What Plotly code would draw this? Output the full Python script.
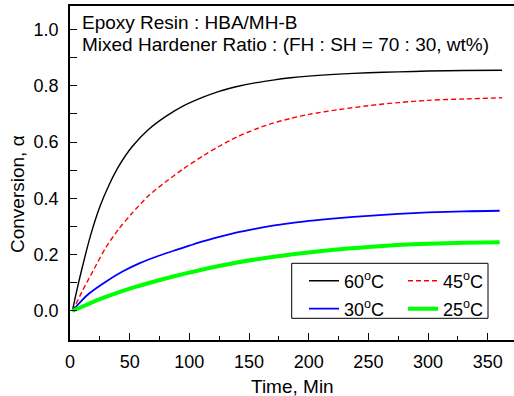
import plotly.graph_objects as go

# ---- data ----
t_60 = [2, 5, 10, 17, 25, 33, 41, 52, 66, 80, 95, 112, 125, 140, 155, 170, 185, 200, 225, 250, 275, 300, 330, 362]
a_60 = [0.0, 0.06, 0.15, 0.265, 0.37, 0.45, 0.515, 0.583, 0.645, 0.69, 0.728, 0.76, 0.78, 0.797, 0.810, 0.820, 0.828, 0.834, 0.841, 0.846, 0.849, 0.852, 0.854, 0.855]

t_45 = [2, 5, 10, 19, 30, 41, 52, 66, 80, 95, 112, 125, 140, 155, 170, 185, 200, 225, 250, 275, 300, 330, 362]
a_45 = [0.0, 0.025, 0.068, 0.14, 0.225, 0.292, 0.347, 0.41, 0.458, 0.505, 0.552, 0.585, 0.618, 0.645, 0.667, 0.684, 0.698, 0.715, 0.729, 0.740, 0.748, 0.753, 0.757]

t_30 = [2, 5, 10, 16, 30, 44, 58, 75, 89, 100, 112, 125, 140, 155, 170, 185, 200, 225, 250, 275, 300, 330, 360]
a_30 = [0.0, 0.015, 0.038, 0.062, 0.104, 0.14, 0.169, 0.197, 0.217, 0.232, 0.248, 0.263, 0.279, 0.292, 0.303, 0.312, 0.320, 0.330, 0.338, 0.345, 0.350, 0.354, 0.356]

t_25 = [2, 10, 25, 40, 52, 70, 89, 112, 140, 168, 196, 226, 250, 274, 300, 330, 360]
a_25 = [0.0, 0.015, 0.042, 0.065, 0.082, 0.104, 0.125, 0.148, 0.172, 0.191, 0.206, 0.219, 0.227, 0.234, 0.239, 0.242, 0.244]

labels = ["60<sup>o</sup>C", "45<sup>o</sup>C", "30<sup>o</sup>C", "25<sup>o</sup>C"]
x_ticks = [0, 50, 100, 150, 200, 250, 300, 350]
y_ticks = [0.0, 0.2, 0.4, 0.6, 0.8, 1.0]

FONT = "Liberation Sans, Arial, sans-serif"

fig = go.Figure()
fig.add_trace(go.Scatter(x=t_60, y=a_60, mode="lines", name=labels[0], legend="legend", showlegend=True,
                         line=dict(color="#000000", width=1.4, shape="spline", smoothing=0.8)))
fig.add_trace(go.Scatter(x=t_45, y=a_45, mode="lines", name=labels[1], legend="legend2", showlegend=True,
                         line=dict(color="#FF0000", width=1.4, dash="5px,3px", shape="spline", smoothing=0.8)))
fig.add_trace(go.Scatter(x=t_30, y=a_30, mode="lines", name=labels[2], legend="legend3", showlegend=True,
                         line=dict(color="#0000FF", width=1.8, shape="spline", smoothing=0.8)))
fig.add_trace(go.Scatter(x=t_25, y=a_25, mode="lines", name=labels[3], legend="legend4", showlegend=True,
                         line=dict(color="#00FF00", width=4, shape="spline", smoothing=0.8)))

W, H = 514, 396
L, T, R, B = 70, 6, 0, 56
pw, ph = W - L - R, H - T - B

def px(xp):
    return (xp - L) / pw

def py(yp):
    return (H - B - yp) / ph

leg_common = dict(bgcolor="rgba(0,0,0,0)", borderwidth=0, xanchor="left", yanchor="middle",
                  font=dict(family=FONT, size=18, color="#000"))
fig.update_layout(
    showlegend=True,
    legend=dict(x=px(304), y=py(281), **leg_common),
    legend2=dict(x=px(403), y=py(281), **leg_common),
    legend3=dict(x=px(304), y=py(309), **leg_common),
    legend4=dict(x=px(403), y=py(309), **leg_common),
)

fig.add_shape(type="rect", xref="paper", yref="paper",
              x0=px(291.7), x1=px(488), y0=py(318.3), y1=py(263.3),
              line=dict(color="#000", width=1), fillcolor="rgba(0,0,0,0)")

fig.add_annotation(xref="paper", yref="paper", x=px(80), y=py(22), xanchor="left", yanchor="middle",
                   text="Epoxy Resin : HBA/MH-B", showarrow=False,
                   font=dict(family=FONT, size=19, color="#000"))
fig.add_annotation(xref="paper", yref="paper", x=px(80), y=py(44), xanchor="left", yanchor="middle",
                   text="Mixed Hardener Ratio : (FH : SH = 70 : 30, wt%)", showarrow=False,
                   font=dict(family=FONT, size=19, color="#000"))
fig.add_annotation(xref="paper", yref="paper", x=px(17), y=py(194), xanchor="center", yanchor="middle",
                   text="Conversion, α", textangle=-90, showarrow=False,
                   font=dict(family=FONT, size=19, color="#000"))
fig.add_annotation(xref="paper", yref="paper", x=px(292), y=py(386), xanchor="center", yanchor="middle",
                   text="Time, Min", showarrow=False,
                   font=dict(family=FONT, size=19, color="#000"))

fig.update_layout(
    width=W, height=H,
    margin=dict(l=L, r=R, t=T, b=B, autoexpand=False),
    paper_bgcolor="white", plot_bgcolor="white",
    font=dict(family=FONT, size=18, color="#000"),
    xaxis=dict(range=[0, 372], tickvals=x_ticks, ticks="inside", ticklen=7, tickwidth=1.3,
               tickcolor="#000", showline=True, linecolor="#000", linewidth=1.5, mirror=True,
               showgrid=False, zeroline=False, ticklabelstandoff=5, automargin=False,
               minor=dict(dtick=25, ticks="inside", ticklen=4, tickcolor="#000", tickwidth=1.3)),
    yaxis=dict(range=[-0.103, 1.083], tickvals=y_ticks, tickformat=".1f", ticks="inside", ticklen=7,
               tickwidth=1.3, tickcolor="#000", showline=True, linecolor="#000", linewidth=1.5,
               mirror=False, showgrid=False, zeroline=False, ticklabelstandoff=6, automargin=False,
               minor=dict(dtick=0.1, ticks="inside", ticklen=7, tickcolor="#000", tickwidth=1.3)),
)

fig.write_html("out.html")
